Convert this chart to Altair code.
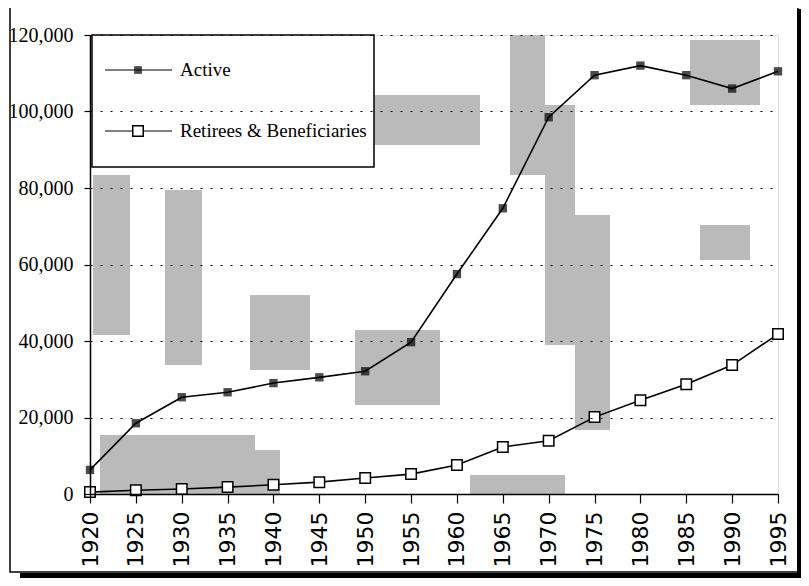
import altair as alt
import pandas as pd

years = [1920, 1925, 1930, 1935, 1940, 1945, 1950, 1955, 1960, 1965, 1970, 1975, 1980, 1985, 1990, 1995]
active = [6300, 18500, 25300, 26600, 29000, 30500, 32100, 39700, 57500, 74700, 98500, 109500, 112000, 109500, 106000, 110500]
retirees = [500, 1000, 1300, 1800, 2400, 3100, 4200, 5200, 7600, 12300, 13900, 20100, 24500, 28700, 33700, 41800]
series_names = ["Active", "Retirees & Beneficiaries"]
y_ticks = [0, 20000, 40000, 60000, 80000, 100000, 120000]

W, H = 688, 459
SERIF = "Liberation Serif"
PATCH = "#bababa"

df = pd.DataFrame({"year": years * 2,
                   "value": active + retirees,
                   "series": [series_names[0]] * len(years) + [series_names[1]] * len(years)})
one = pd.DataFrame({"k": [0]})

xs = alt.Scale(domain=[1920, 1995], nice=False, zero=False)
ys = alt.Scale(domain=[0, 120000], nice=False)

def box(x, x2, y, y2, fill, stroke=None, sw=0, fo=1):
    if stroke:
        m = alt.Chart(one).mark_rect(fill=fill, fillOpacity=fo, stroke=stroke, strokeWidth=sw)
    else:
        m = alt.Chart(one).mark_rect(fill=fill, fillOpacity=fo, strokeWidth=0)
    return m.encode(x=alt.value(x), x2=alt.value(x2), y=alt.value(y), y2=alt.value(y2))

frame = box(-80, 708, -30, 537, "white", "black", 1.5, fo=0)
shadow = box(-70, 715, 538, 551, "black")
edge = box(707, 712, -26, 551, "black")

# lighter scan patches
patches = alt.layer(
    box(3, 40, 140, 300, PATCH),
    box(75, 112, 155, 330, PATCH),
    box(160, 205, 10, 65, PATCH),
    box(160, 220, 260, 335, PATCH),
    box(205, 390, 60, 110, PATCH),
    box(265, 350, 295, 370, PATCH),
    box(10, 165, 400, 460, PATCH),
    box(165, 190, 415, 460, PATCH),
    box(420, 455, 0, 140, PATCH),
    box(455, 485, 70, 310, PATCH),
    box(485, 520, 180, 395, PATCH),
    box(380, 475, 440, 460, PATCH),
    box(600, 670, 5, 70, PATCH),
    box(610, 660, 190, 225, PATCH),
)

base = alt.Chart(df).encode(
    x=alt.X("year:Q", scale=xs, axis=alt.Axis(
        values=years, format="d", labelAngle=-90, labelAlign="right", labelBaseline="middle",
        labelFont="DejaVu Sans", labelFontSize=22, labelColor="black", labelPadding=8,
        tickSize=9, tickColor="black", tickWidth=1.2, domainColor="black", domainWidth=1.5,
        grid=False, title=None, labelOverlap=False, zindex=1)),
    y=alt.Y("value:Q", scale=ys, axis=alt.Axis(
        values=y_ticks, format=",.0f", labelFont=SERIF, labelFontSize=20, labelColor="black",
        labelPadding=11, tickSize=6, tickColor="black", tickWidth=1.2,
        domainColor="black", domainWidth=1.5, grid=True, gridColor="black",
        gridDash=[2, 8], gridWidth=1.2, title=None, zindex=1)),
    detail="series:N",
)

lines = base.mark_line(color="black", strokeWidth=1.6)
act_pts = base.transform_filter(alt.datum.series == series_names[0]).mark_point(
    shape="square", filled=True, color="black", size=70)
ret_pts = base.transform_filter(alt.datum.series == series_names[1]).mark_point(
    shape="square", filled=True, fill="white", stroke="black", strokeWidth=1.5, size=110, opacity=1)

# legend
leg_box = box(2, 284, 0, 132, "white", "black", 1.5)
def leg_entry(i, y, filled):
    name = series_names[i]
    ln = alt.Chart(one).mark_rule(color="black", strokeWidth=1.2).encode(
        x=alt.value(15), x2=alt.value(82), y=alt.value(y))
    if filled:
        pt = alt.Chart(one).mark_point(shape="square", filled=True, color="black", size=60).encode(
            x=alt.value(48), y=alt.value(y))
    else:
        pt = alt.Chart(one).mark_point(shape="square", filled=True, fill="white", stroke="black",
                                       strokeWidth=1.5, size=110, opacity=1).encode(
            x=alt.value(48), y=alt.value(y))
    tx = alt.Chart(one).mark_text(text=name, font=SERIF, fontSize=19, align="left",
                                  baseline="middle", color="black").encode(
        x=alt.value(90), y=alt.value(y))
    return ln + pt + tx

legend = leg_box + leg_entry(0, 35, True) + leg_entry(1, 96, False)

chart = alt.layer(frame, shadow, edge, patches, lines, act_pts, ret_pts, legend).properties(
    width=W, height=H,
    padding={"left": 82, "top": 27, "right": 23, "bottom": 84},
    autosize=alt.AutoSizeParams(type="none"),
).configure_view(strokeWidth=0, fill="#a6a6a6").configure(background="white") \
 .configure_axisX(labelFontSize=22, labelFont="DejaVu Sans") \
 .configure_axisY(labelFontSize=20, labelFont=SERIF)

chart.save("out.html", embed_options={"renderer": "svg", "actions": False})
